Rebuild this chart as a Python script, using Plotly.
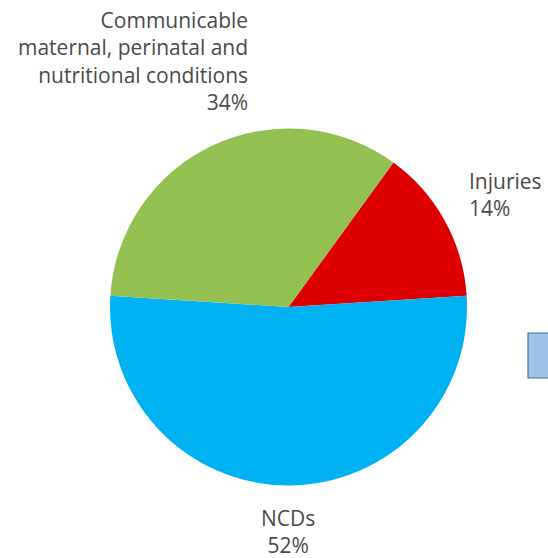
import plotly.graph_objects as go

OFF = 0
W, H = 548, 558

labels = ["Injuries", "NCDs", "Communicable<br>maternal, perinatal and<br>nutritional conditions"]
values = [14, 52, 34]
colors = ["#DE0000", "#00B2F2", "#93C151"]


def px(x):
    return (x - OFF) / W


def py(y):
    return 1 - (y - OFF) / H


fig = go.Figure()
fig.add_trace(go.Pie(
    labels=labels,
    values=values,
    sort=False,
    direction="clockwise",
    rotation=36,
    marker=dict(colors=colors, line=dict(width=0)),
    textinfo="none",
    hoverinfo="label+percent",
    showlegend=False,
    domain=dict(x=[px(110), px(467)], y=[py(485.5), py(128.5)]),
))

font = dict(family="Open Sans, Noto Sans, sans-serif", size=21, color="#4a4a4a")

label_pos = [
    dict(x=px(467), y=py(165), xanchor="left", yanchor="top", align="left"),
    dict(x=px(288), y=py(502), xanchor="center", yanchor="top", align="center"),
    dict(x=px(250), y=py(4), xanchor="right", yanchor="top", align="right"),
]
for lab, val, pos in zip(labels, values, label_pos):
    fig.add_annotation(text=f"{lab}<br>{val}%", showarrow=False, xref="paper", yref="paper",
                       font=font, **pos)

fig.add_shape(type="rect", xref="paper", yref="paper",
              x0=px(528), x1=px(556), y0=py(378), y1=py(333),
              fillcolor="#9DC3E6", line=dict(color="#41719C", width=1.2))

fig.update_layout(width=W, height=H, margin=dict(l=0, r=0, t=0, b=0),
                  paper_bgcolor="white", plot_bgcolor="white")
fig.write_html(
    "out.html",
    config={"displayModeBar": False},
    post_script="document.body.style.margin='0';document.body.style.overflow='hidden';",
)
